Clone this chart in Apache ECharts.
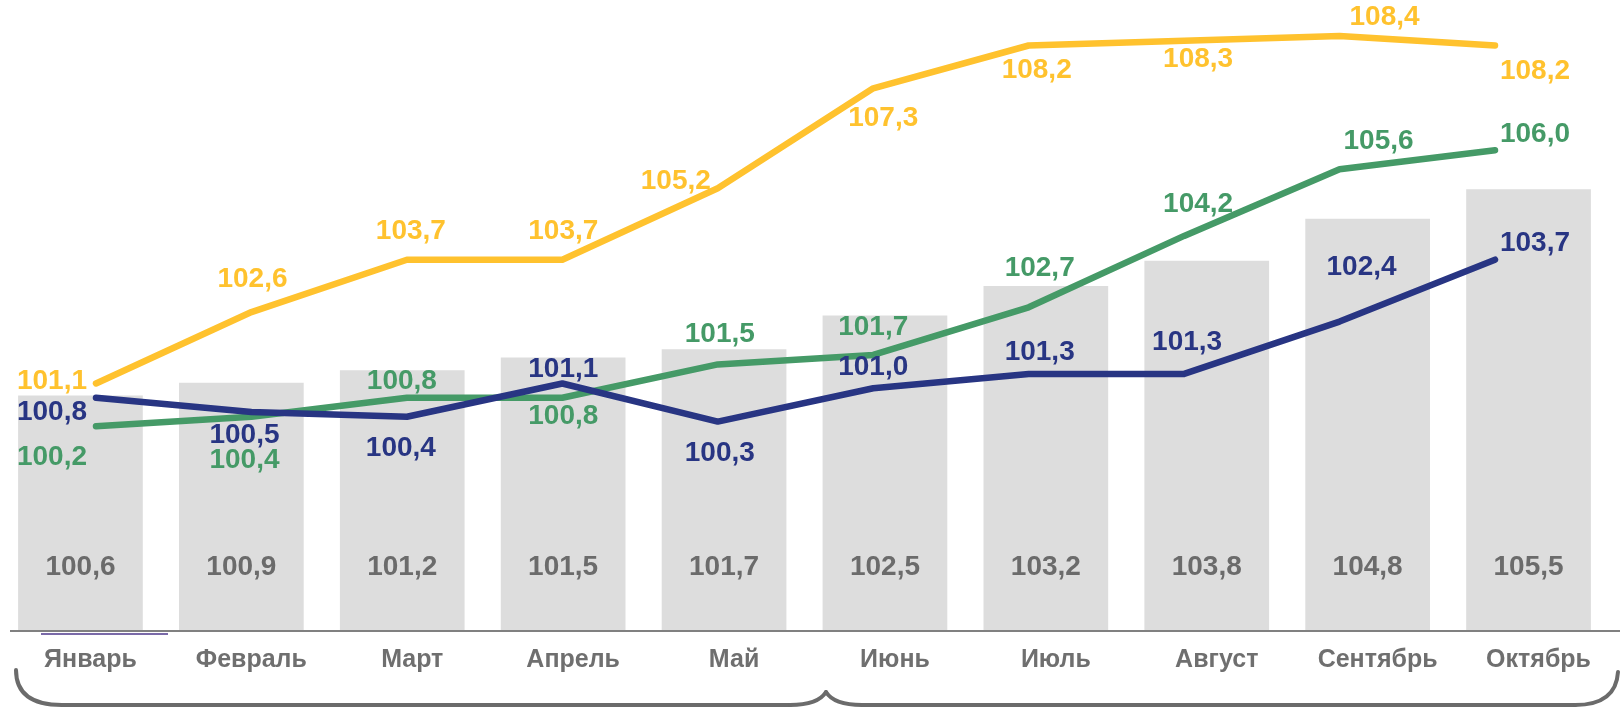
<!DOCTYPE html>
<html><head><meta charset="utf-8">
<script src="https://cdn.jsdelivr.net/npm/echarts@6/dist/echarts.min.js"></script>
<style>html,body{margin:0;padding:0;background:#fff}#c{width:1620px;height:708px}</style>
</head><body><div id="c"></div>
<script>
const months = ['Январь','Февраль','Март','Апрель','Май','Июнь','Июль','Август','Сентябрь','Октябрь'];
const barValues = [100.6,100.9,101.2,101.5,101.7,102.5,103.2,103.8,104.8,105.5];
const yellowValues = [101.1,102.6,103.7,103.7,105.2,107.3,108.2,108.3,108.4,108.2];
const greenValues = [100.2,100.4,100.8,100.8,101.5,101.7,102.7,104.2,105.6,106.0];
const blueValues = [100.8,100.5,100.4,101.1,100.3,101.0,101.3,101.3,102.4,103.7];

// label offsets (style only)
const yellowOff = [[-44,-2],[1,-33],[4,-28],[1,-28],[-42,-7],[10,30],[8,25],[14,19],[45,-19],[40,26]];
const greenOff = [[-44,31],[-7,43],[-5,-16],[1,19],[2,-30],[0,-28],[11,-39],[14,-32],[39,-28],[40,-16]];
const blueOff = [[-44,15],[-7,23],[-6,31],[1,-14],[2,32],[0,-21],[11,-22],[3,-32],[22,-54],[40,-16]];

const FONT = '"Liberation Sans", Arial, sans-serif';
const fmt = v => v.toFixed(1).replace('.', ',');

function lineSeries(name, vals, offs, color) {
  return {
    name, type: 'line', xAxisIndex: 1, yAxisIndex: 1,
    symbol: 'circle', symbolSize: 1, showSymbol: true,
    itemStyle: { color },
    lineStyle: { color, width: 6.5, cap: 'round', join: 'round' },
    data: vals.map((v, i) => ({
      value: v,
      label: { show: true, position: 'inside', offset: offs[i], formatter: fmt(v),
               color, fontFamily: FONT, fontWeight: 'bold', fontSize: 28 }
    })),
    z: 3, silent: true, animation: false
  };
}

const braceStyle = { stroke: '#6b6b6b', lineWidth: 4, fill: null, lineCap: 'round' };

const chart = echarts.init(document.getElementById('c'));
chart.setOption({
  animation: false,
  grid: [
    { left: -3, right: 11, top: 0, bottom: 77 },
    { left: 96, right: 125, top: 0, bottom: 77 }
  ],
  xAxis: [
    { type: 'category', gridIndex: 0, data: months, boundaryGap: true,
      axisLine: { show: false }, axisTick: { show: false },
      axisLabel: { color: '#6f6f6f', fontFamily: FONT, fontWeight: 'bold', fontSize: 25, margin: 17,
                   padding: [0, 0, 0, 20] } },
    { type: 'category', gridIndex: 1, data: months, boundaryGap: false, show: false }
  ],
  yAxis: [
    { type: 'value', gridIndex: 0, min: 95, max: 110, show: false, splitLine: { show: false } },
    { type: 'value', gridIndex: 1, min: 95.9, max: 109.156, show: false, splitLine: { show: false } }
  ],
  series: [
    { type: 'bar', xAxisIndex: 0, yAxisIndex: 0, data: barValues, barCategoryGap: '22.5%',
      itemStyle: { color: '#dddddd' },
      label: { show: true, position: 'insideBottom', offset: [0, -45], formatter: p => fmt(p.value),
               color: '#6b6b6b', fontFamily: FONT, fontWeight: 'bold', fontSize: 28 },
      z: 1, silent: true },
    lineSeries('yellow', yellowValues, yellowOff, '#ffc22e'),
    lineSeries('green', greenValues, greenOff, '#459a67'),
    lineSeries('blue', blueValues, blueOff, '#283583')
  ],
  graphic: [
    { type: 'line', shape: { x1: 10, y1: 631, x2: 1620, y2: 631 }, style: { stroke: '#808080', lineWidth: 2 }, z: 10 },
    { type: 'line', shape: { x1: 41, y1: 634, x2: 168, y2: 634 }, style: { stroke: '#7a6aa8', lineWidth: 2 }, z: 10 },
    { type: 'bezierCurve', shape: { x1: 16, y1: 670, cpx1: 16, cpy1: 705, x2: 62, y2: 705 }, style: braceStyle, z: 10 },
    { type: 'line', shape: { x1: 62, y1: 705, x2: 790, y2: 705 }, style: braceStyle, z: 10 },
    { type: 'bezierCurve', shape: { x1: 790, y1: 705, cpx1: 818, cpy1: 705, x2: 826, y2: 692 }, style: braceStyle, z: 10 },
    { type: 'bezierCurve', shape: { x1: 826, y1: 692, cpx1: 834, cpy1: 705, x2: 862, y2: 705 }, style: braceStyle, z: 10 },
    { type: 'line', shape: { x1: 862, y1: 705, x2: 1575, y2: 705 }, style: braceStyle, z: 10 },
    { type: 'bezierCurve', shape: { x1: 1575, y1: 705, cpx1: 1616, cpy1: 705, x2: 1618, y2: 672 }, style: braceStyle, z: 10 }
  ]
});
</script></body></html>
